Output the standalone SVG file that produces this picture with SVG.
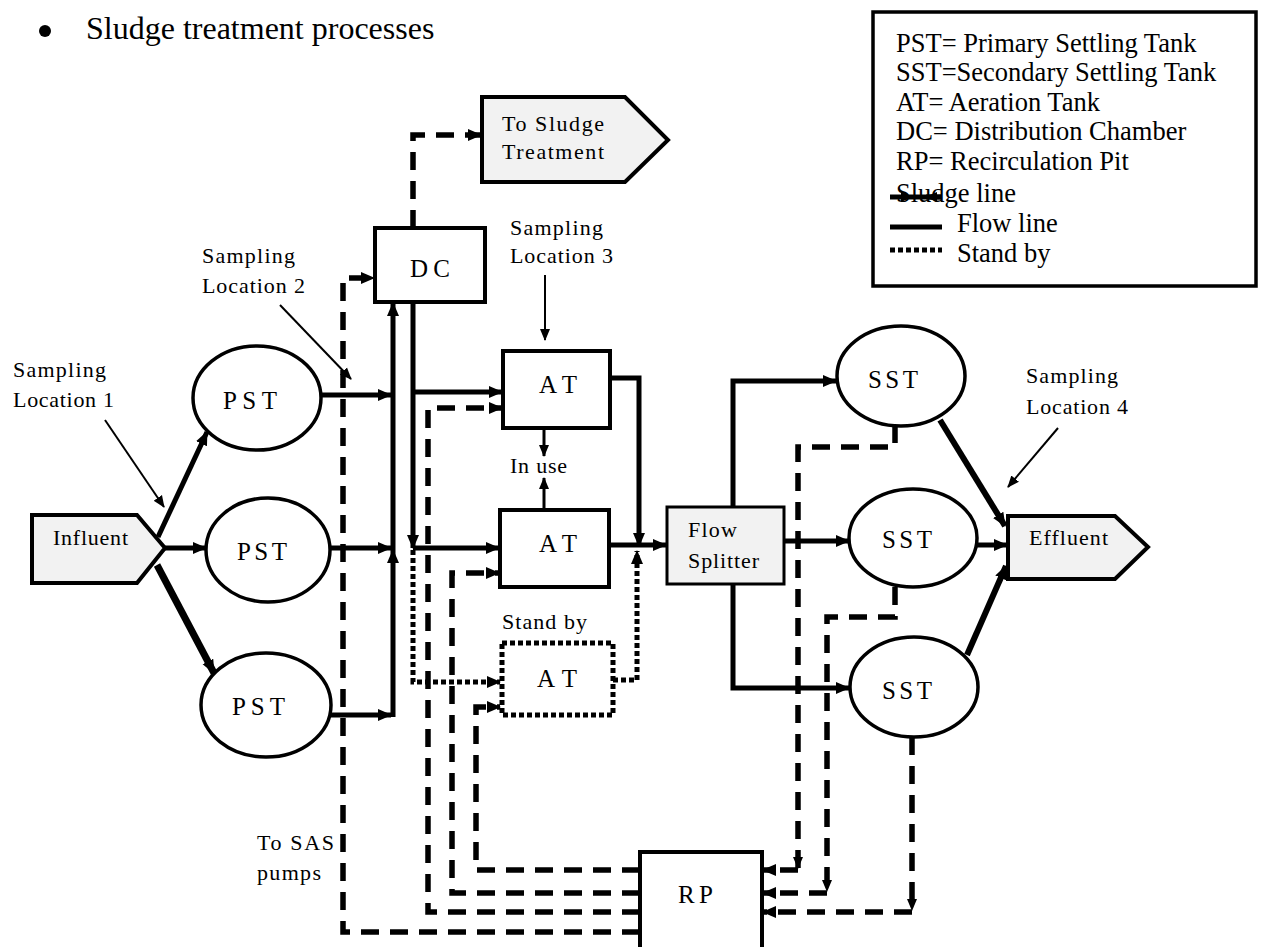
<svg xmlns="http://www.w3.org/2000/svg" width="1262" height="947" viewBox="0 0 1262 947">
<style>
text{font-family:"Liberation Serif","Times New Roman",serif;fill:#000}
.t26{font-size:26.5px}
.lb{font-size:22px}
.nd{font-size:25px}
.box{fill:#fff;stroke:#000;stroke-width:4}
.gray{fill:#f2f2f2;stroke:#000;stroke-width:4}
.ell{fill:#fff;stroke:#000;stroke-width:3.5}
.flow{fill:none;stroke:#000;stroke-width:5}
.sl{fill:none;stroke:#000;stroke-width:5.5;stroke-dasharray:18 11}
.sb{fill:none;stroke:#000;stroke-width:5;stroke-dasharray:5 3}
.thin{fill:none;stroke:#000;stroke-width:2}
</style>
<defs>
<marker id="ah" markerUnits="userSpaceOnUse" markerWidth="14" markerHeight="14" viewBox="0 0 14 14" refX="13" refY="7" orient="auto"><path d="M0,1 L14,7 L0,13 z" fill="#000"/></marker>
<marker id="ahs" markerUnits="userSpaceOnUse" markerWidth="12" markerHeight="12" viewBox="0 0 12 12" refX="11" refY="6" orient="auto"><path d="M0,1 L12,6 L0,11 z" fill="#000"/></marker>
</defs>
<rect width="1262" height="947" fill="#fff"/>

<g id="title">
<circle cx="45" cy="31" r="6"/>
<text x="86" y="39" style="font-size:32px">Sludge treatment processes</text>
</g>

<g id="legend">
<rect x="873" y="12" width="383" height="274" fill="#fff" stroke="#000" stroke-width="3.5"/>
<text class="t26" x="896" y="52">PST= Primary Settling Tank</text>
<text class="t26" x="896" y="81">SST=Secondary Settling Tank</text>
<text class="t26" x="896" y="111">AT= Aeration Tank</text>
<text class="t26" x="896" y="140">DC= Distribution Chamber</text>
<text class="t26" x="896" y="170">RP= Recirculation Pit</text>
<text class="t26" x="896" y="202">Sludge line</text>
<path d="M890,197 L912,197" class="flow" marker-end="url(#ahs)"/>
<path d="M912,197 L942,197" class="flow"/>
<path d="M942,197 L926,197" class="flow" marker-end="url(#ahs)"/>
<text class="t26" x="957" y="232">Flow line</text>
<path d="M890,227 L942,227" class="flow"/>
<text class="t26" x="957" y="262">Stand by</text>
<path d="M890,250 L942,250" class="sb"/>
</g>

<g id="connectors">
<!-- flow lines -->
<path class="flow" d="M158,537 L207,432" marker-end="url(#ah)"/>
<path class="flow" d="M165,548 L206,548" marker-end="url(#ah)"/>
<path class="flow" style="stroke-width:7" d="M157,565 L214,673" marker-end="url(#ah)"/>
<path class="flow" d="M322,395 L391,395" marker-end="url(#ah)"/>
<path class="flow" d="M330,548 L391,548" marker-end="url(#ah)"/>
<path class="flow" d="M331,715 L391,715" marker-end="url(#ah)"/>
<path class="flow" d="M393,717 L393,550" marker-end="url(#ah)"/>
<path class="flow" d="M393,550 L393,303" marker-end="url(#ah)"/>
<path class="flow" d="M413,302 L413,548" marker-end="url(#ah)"/>
<path class="flow" d="M413,392 L502,392" marker-end="url(#ah)"/>
<path class="flow" d="M413,548 L499,548" marker-end="url(#ah)"/>
<path class="flow" style="stroke-width:3" d="M544,428 L544,456" marker-end="url(#ahs)"/>
<path class="flow" style="stroke-width:3" d="M544,510 L544,478" marker-end="url(#ahs)"/>
<path class="flow" d="M610,378 L639,378 L639,546" marker-end="url(#ah)"/>
<path class="flow" d="M609,545 L666,545" marker-end="url(#ah)"/>
<path class="flow" d="M733,507 L733,381 L836,381" marker-end="url(#ah)"/>
<path class="flow" d="M784,541 L849,541" marker-end="url(#ah)"/>
<path class="flow" d="M733,584 L733,688 L849,688" marker-end="url(#ah)"/>
<path class="flow" style="stroke-width:6" d="M940,420 L1005,526" marker-end="url(#ah)"/>
<path class="flow" d="M977,545 L1007,545" marker-end="url(#ah)"/>
<path class="flow" style="stroke-width:6" d="M967,655 L1006,566" marker-end="url(#ah)"/>
<!-- sludge lines -->
<path class="sl" d="M413,228 L413,135 L481,135" marker-end="url(#ah)"/>
<path class="sl" d="M640,932 L343,932 L343,278 L374,278" marker-end="url(#ah)"/>
<path class="sl" d="M640,912 L428,912 L428,408 L502,408" marker-end="url(#ah)"/>
<path class="sl" d="M640,893 L452,893 L452,573 L499,573" marker-end="url(#ah)"/>
<path class="sl" d="M640,870 L476,870 L476,707 L500,707" marker-end="url(#ah)"/>
<path class="sl" d="M895,425 L895,447 L798,447 L798,868" marker-end="url(#ahs)"/>
<path class="sl" d="M798,870 L763,870" marker-end="url(#ah)"/>
<path class="sl" d="M895,587 L895,617 L827,617 L827,891" marker-end="url(#ahs)"/>
<path class="sl" d="M827,893 L763,893" marker-end="url(#ah)"/>
<path class="sl" d="M912,737 L912,910" marker-end="url(#ahs)"/>
<path class="sl" d="M912,912 L763,912" marker-end="url(#ah)"/>
<!-- stand by lines -->
<path class="sb" d="M413,550 L413,682 L500,682" marker-end="url(#ah)"/>
<path class="sb" d="M613,680 L637,680 L637,551" marker-end="url(#ah)"/>
<!-- sampling pointers -->
<path class="thin" d="M105,420 L164,507" marker-end="url(#ahs)"/>
<path class="thin" d="M280,305 L351,379" marker-end="url(#ahs)"/>
<path class="thin" d="M545,275 L545,340" marker-end="url(#ahs)"/>
<path class="thin" d="M1058,428 L1008,487" marker-end="url(#ahs)"/>
</g>

<g id="influent">
<polygon class="gray" points="32,515 137,515 165,548 137,583 32,583"/>
<text class="lb" x="53" y="545" textLength="75" lengthAdjust="spacing">Influent</text>
</g>
<g id="to-sludge-treatment">
<polygon class="gray" points="482,97 625,97 668,140 625,182 482,182"/>
<text class="lb" x="502" y="131" textLength="102" lengthAdjust="spacing">To Sludge</text>
<text class="lb" x="502" y="159" textLength="102" lengthAdjust="spacing">Treatment</text>
</g>
<g id="effluent">
<polygon class="gray" points="1008,516 1115,516 1148,547 1115,579 1008,579"/>
<text class="lb" x="1029" y="545" textLength="79" lengthAdjust="spacing">Effluent</text>
</g>
<g id="pst1">
<ellipse class="ell" cx="257" cy="398" rx="64" ry="52"/>
<text class="nd" x="223" y="409" textLength="54" lengthAdjust="spacing">PST</text>
</g>
<g id="pst2">
<ellipse class="ell" cx="268" cy="550" rx="62" ry="52"/>
<text class="nd" x="237" y="560" textLength="50" lengthAdjust="spacing">PST</text>
</g>
<g id="pst3">
<ellipse class="ell" cx="266" cy="705" rx="65" ry="52"/>
<text class="nd" x="232" y="715" textLength="53" lengthAdjust="spacing">PST</text>
</g>
<g id="dc">
<rect class="box" x="375" y="228" width="110" height="74"/>
<text class="nd" x="410" y="277" textLength="40" lengthAdjust="spacing">DC</text>
</g>
<g id="at1">
<rect class="box" x="503" y="351" width="107" height="77"/>
<text class="nd" x="539" y="393" textLength="38" lengthAdjust="spacing">AT</text>
</g>
<g id="at2">
<rect class="box" x="500" y="510" width="109" height="77"/>
<text class="nd" x="539" y="552" textLength="38" lengthAdjust="spacing">AT</text>
</g>
<g id="at-standby">
<rect x="502" y="643" width="111" height="72" fill="#fff" stroke="#000" stroke-width="5" stroke-dasharray="5 3"/>
<text class="nd" x="537" y="687" textLength="40" lengthAdjust="spacing">AT</text>
</g>
<g id="flow-splitter">
<rect class="gray" x="667" y="507" width="117" height="77" style="stroke-width:3"/>
<text class="lb" x="688" y="537" textLength="49" lengthAdjust="spacing">Flow</text>
<text class="lb" x="688" y="568" textLength="71" lengthAdjust="spacing">Splitter</text>
</g>
<g id="sst1">
<ellipse class="ell" cx="901" cy="376" rx="64" ry="50"/>
<text class="nd" x="868" y="388" textLength="50" lengthAdjust="spacing">SST</text>
</g>
<g id="sst2">
<ellipse class="ell" cx="913" cy="538" rx="64" ry="49"/>
<text class="nd" x="882" y="548" textLength="50" lengthAdjust="spacing">SST</text>
</g>
<g id="sst3">
<ellipse class="ell" cx="914" cy="687" rx="64" ry="50"/>
<text class="nd" x="882" y="699" textLength="50" lengthAdjust="spacing">SST</text>
</g>
<g id="rp">
<rect class="box" x="640" y="852" width="122" height="100"/>
<text class="nd" x="678" y="903" textLength="35" lengthAdjust="spacing">RP</text>
</g>

<g id="labels">
<text class="lb" x="13" y="377" textLength="93" lengthAdjust="spacing">Sampling</text>
<text class="lb" x="13" y="407" textLength="101" lengthAdjust="spacing">Location 1</text>
<text class="lb" x="202" y="263" textLength="93" lengthAdjust="spacing">Sampling</text>
<text class="lb" x="202" y="293" textLength="103" lengthAdjust="spacing">Location 2</text>
<text class="lb" x="510" y="235" textLength="93" lengthAdjust="spacing">Sampling</text>
<text class="lb" x="510" y="263" textLength="103" lengthAdjust="spacing">Location 3</text>
<text class="lb" x="1026" y="383" textLength="92" lengthAdjust="spacing">Sampling</text>
<text class="lb" x="1026" y="414" textLength="102" lengthAdjust="spacing">Location 4</text>
<text class="lb" x="510" y="473" textLength="57" lengthAdjust="spacing">In use</text>
<text class="lb" x="502" y="629" textLength="85" lengthAdjust="spacing">Stand by</text>
<text class="lb" x="257" y="850" textLength="77" lengthAdjust="spacing">To SAS</text>
<text class="lb" x="257" y="880" textLength="64" lengthAdjust="spacing">pumps</text>
</g>
</svg>
